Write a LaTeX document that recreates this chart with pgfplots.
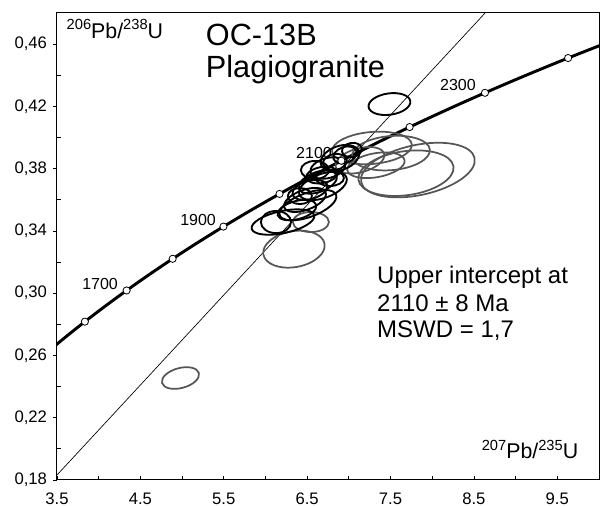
\documentclass[border=0pt]{standalone}
\usepackage{pgfplots}
\pgfplotsset{compat=1.18}
\usepackage{pgfplotstable}
\usepackage{fontspec}
\setmainfont{Liberation Sans}
\definecolor{ellgray}{RGB}{85,85,85}
\newcommand{\sups}[1]{\raisebox{0.42em}{\fontsize{11}{11}\selectfont #1}}

\pgfdeclareplotmark{ell}{%
  \pgfmathsetmacro\angb{\ang+90}%
  \pgfpathellipse{\pgfpointorigin}{\pgfpointpolar{\ang}{\ra pt}}{\pgfpointpolar{\angb}{\rb pt}}%
  \pgfusepathqstroke}

% concordia curve (t = 1500 ... 2450 Ma, step 50)
\pgfplotstableread{
x y
3.3810 0.26198
3.6021 0.27181
3.8344 0.28172
4.0784 0.29170
4.3348 0.30175
4.6040 0.31189
4.8869 0.32210
5.1840 0.33240
5.4962 0.34277
5.8241 0.35323
6.1685 0.36377
6.5304 0.37438
6.9104 0.38509
7.3097 0.39587
7.7292 0.40674
8.1698 0.41769
8.6326 0.42873
9.1188 0.43986
9.6296 0.45107
10.1661 0.46237
}\concordia

% age markers 1600 ... 2400 Ma
\pgfplotstableread{
x y
3.8344 0.28172
4.3348 0.30175
4.8869 0.32210
5.4962 0.34277
6.1685 0.36377
6.9104 0.38509
7.7292 0.40674
8.6326 0.42873
9.6296 0.45107
}\agemarks

% black ellipses: centre, semi-axes (pt), angle (deg)
\pgfplotstableread{
x y ra rb ang
7.487 0.4215 15.8 8.0 8
6.210 0.3457 24.0 8.3 12
6.126 0.3457 11.3 8.3 0
6.378 0.3534 15.0 6.8 15
6.474 0.3599 16.5 7.5 20
6.533 0.3663 13.5 6.8 15
6.629 0.3714 15.0 7.5 20
6.677 0.3759 12.0 6.0 10
6.593 0.3791 10.5 6.8 0
6.749 0.3804 13.5 7.5 15
6.833 0.3843 9.0 6.0 10
6.953 0.3888 9.0 6.0 20
7.037 0.3920 7.5 5.3 10
6.893 0.3868 15.0 9.0 20
6.689 0.3689 18.8 9.0 20
6.773 0.3740 10.5 6.0 0
6.509 0.3566 22.5 9.0 20
6.413 0.3624 9.0 6.0 0
}\blackell

% grey ellipses
\pgfplotstableread{
x y ra rb ang
6.545 0.3457 13.5 7.5 0
6.342 0.3283 23.3 13.5 10
4.981 0.2455 14.3 7.5 15
7.277 0.3933 30.0 12.0 5
7.505 0.3900 29.3 12.8 5
7.828 0.3791 43.5 18.8 12
7.685 0.3771 36.0 16.5 8
7.325 0.3822 21.8 9.0 10
7.133 0.3854 18.8 9.0 15
}\greyell

\begin{document}
\begin{tikzpicture}
\begin{axis}[
  scale only axis,
  width=406.5pt, height=350.25pt,
  xmin=3.5, xmax=10, ymin=0.18, ymax=0.48,
  xtick={3.5,4.5,5.5,6.5,7.5,8.5,9.5},
  minor xtick={4,5,6,7,8,9},
  ytick={0.18,0.22,0.26,0.30,0.34,0.38,0.42,0.46},
  minor ytick={0.20,0.24,0.28,0.32,0.36,0.40,0.44},
  xtick pos=bottom, ytick pos=left,
  xtick align=inside, ytick align=outside,
  major tick length=3pt, minor tick length=3pt,
  minor y tick style={xshift=3pt},
  tick style={black, line width=0.6pt},
  axis line style={line width=0.75pt},
  /pgf/number format/assume math mode=true,
  ticklabel style={font=\fontsize{12.5}{14}\selectfont},
  xticklabel style={yshift=-6pt, /pgf/number format/.cd, fixed, fixed zerofill, precision=1},
  yticklabel style={xshift=-1pt, /pgf/number format/.cd, fixed, fixed zerofill, precision=2, use comma},
  scaled ticks=false,
]
% grey ellipses
\addplot[scatter, only marks, mark=ell, line width=1.3pt,
  scatter/use mapped color={draw=ellgray, fill=none},
  visualization depends on={\thisrow{ra}\as\ra},
  visualization depends on={\thisrow{rb}\as\rb},
  visualization depends on={\thisrow{ang}\as\ang}] table {\greyell};
% black ellipses
\addplot[scatter, only marks, mark=ell, line width=1.4pt,
  scatter/use mapped color={draw=black, fill=none},
  visualization depends on={\thisrow{ra}\as\ra},
  visualization depends on={\thisrow{rb}\as\rb},
  visualization depends on={\thisrow{ang}\as\ang}] table {\blackell};
% discordia
\addplot[black, line width=0.5pt] coordinates {(3.5,0.1832) (8.634,0.48)};
% concordia
\addplot[black, line width=2.2pt, smooth] table {\concordia};
\addplot[only marks, mark=*, mark size=2.7pt,
  mark options={fill=white, draw=black, line width=0.6pt}] table {\agemarks};

% texts
\node[anchor=base west, font=\fontsize{16}{18}\selectfont] at (axis cs:3.56,0.4638)
  {\sups{206}Pb/\sups{238}U};
\node[anchor=base east, font=\fontsize{16}{18}\selectfont] at (axis cs:9.807,0.1935)
  {\sups{207}Pb/\sups{235}U};
\node[anchor=base west, font=\fontsize{23}{26}\selectfont, inner sep=0pt] at (axis cs:5.283,0.4593) {OC-13B};
\node[anchor=base west, font=\fontsize{23}{26}\selectfont, inner sep=0pt] at (axis cs:5.283,0.4387) {Plagiogranite};
\node[anchor=base west, font=\fontsize{12}{14}\selectfont, inner sep=0pt] at (axis cs:8.092,0.4304) {2300};
\node[anchor=base west, font=\fontsize{12}{14}\selectfont, inner sep=0pt] at (axis cs:6.366,0.3867) {2100};
\node[anchor=base west, font=\fontsize{12}{14}\selectfont, inner sep=0pt] at (axis cs:4.975,0.3437) {1900};
\node[anchor=base west, font=\fontsize{12}{14}\selectfont, inner sep=0pt] at (axis cs:3.80,0.3026) {1700};
\node[anchor=base west, font=\fontsize{18}{20}\selectfont, inner sep=0pt] at (axis cs:7.337,0.3065) {Upper intercept at};
\node[anchor=base west, font=\fontsize{18}{20}\selectfont, inner sep=0pt] at (axis cs:7.337,0.2885) {2110 ± 8 Ma};
\node[anchor=base west, font=\fontsize{18}{20}\selectfont, inner sep=0pt] at (axis cs:7.337,0.2718) {MSWD = 1,7};
\end{axis}
\pgfresetboundingbox
\path[use as bounding box] (-42.75pt,-19.5pt) rectangle (407.25pt,360pt);
\end{tikzpicture}
\end{document}
